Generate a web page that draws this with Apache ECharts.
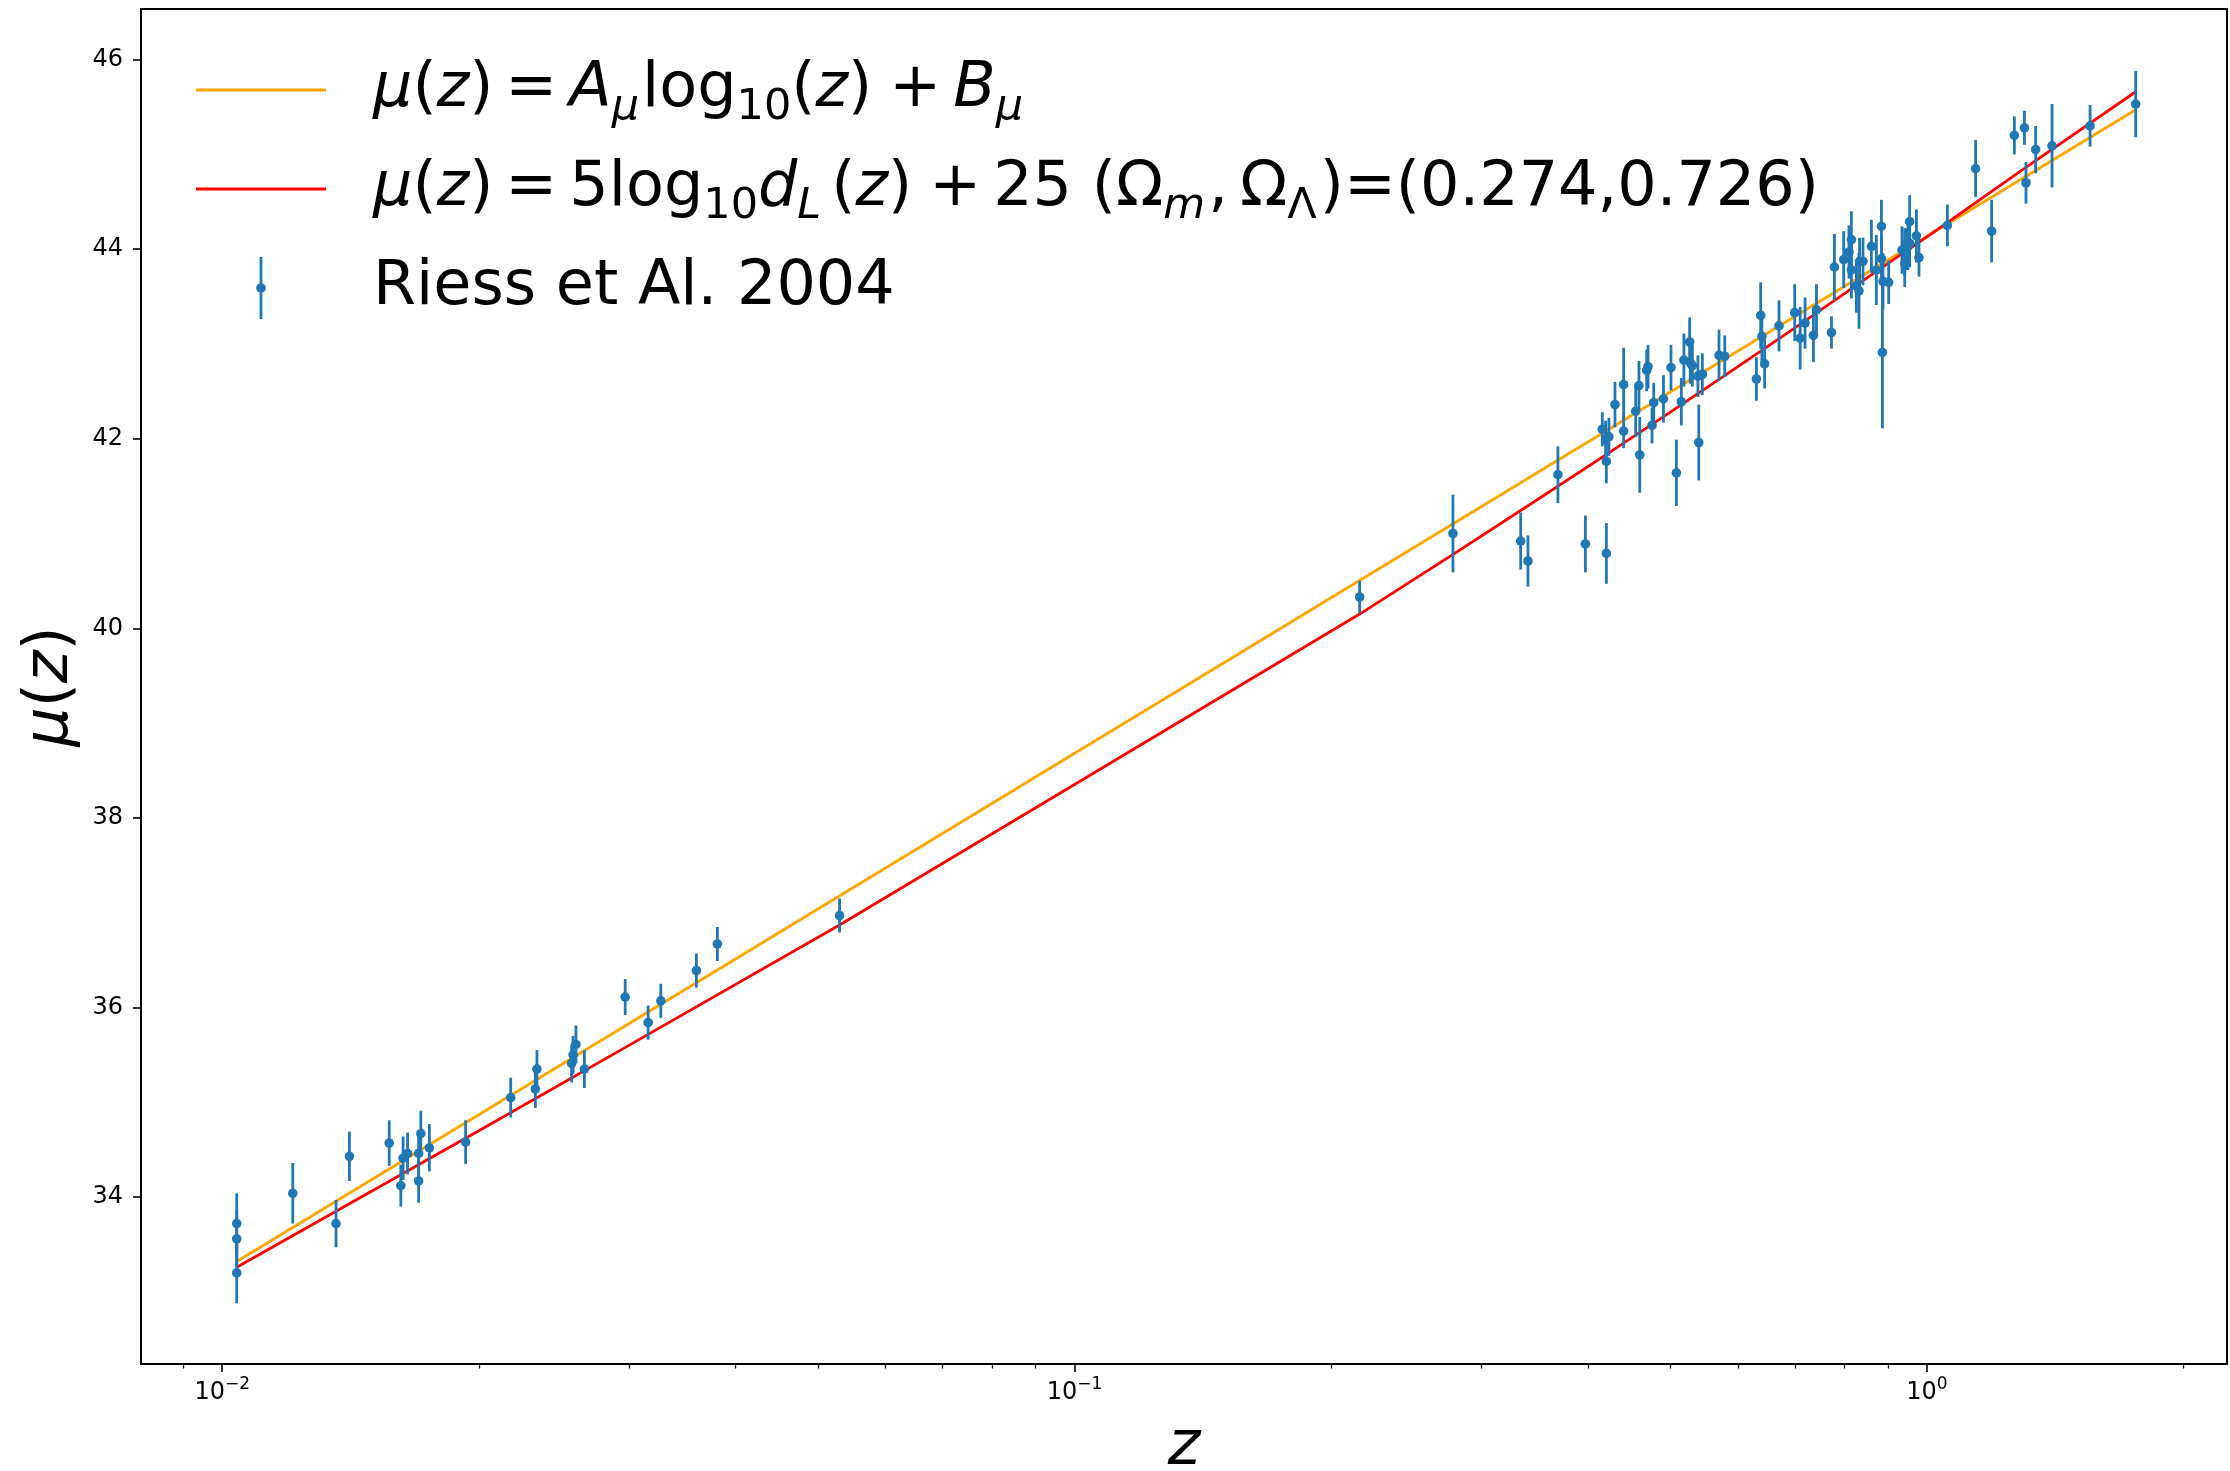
<!DOCTYPE html>
<html>
<head>
<meta charset="utf-8">
<script src="https://cdn.jsdelivr.net/npm/echarts@6/dist/echarts.min.js"></script>
<style>
html,body{margin:0;padding:0;background:#ffffff;}
#chart{width:2230px;height:1471px;}
</style>
</head>
<body>
<div id="chart"></div>
<script>
// ---- data ----
// Riess et al. 2004 supernovae: redshift, distance modulus, 1-sigma error
const snZ = [
  0.0104, 0.0104, 0.0104, 0.0121, 0.0136, 0.0141, 0.0157, 0.0162, 0.0163, 0.0165,
  0.0170, 0.0170, 0.0171, 0.0175, 0.0193, 0.0218, 0.0233, 0.0234, 0.0257, 0.0258,
  0.0260, 0.0266, 0.0297, 0.0316, 0.0327, 0.0360, 0.0381, 0.0530,
  0.2160, 0.2779, 0.3337, 0.3403, 0.3690, 0.3974, 0.4206, 0.4206, 0.4603, 0.5082,
  0.4160, 0.4198, 0.4235, 0.4305, 0.4407, 0.4407, 0.4553, 0.4593, 0.4707, 0.4690,
  0.4780, 0.4758, 0.4907, 0.5008, 0.5150, 0.5186, 0.5267, 0.5276, 0.5306, 0.5399,
  0.5386, 0.5451, 0.5702, 0.5791, 0.6308, 0.6381, 0.6402, 0.6450, 0.6705, 0.6996,
  0.7100, 0.7194, 0.7358, 0.7419, 0.7726,
  0.7788, 0.7986, 0.8100, 0.8153, 0.8153, 0.8264, 0.8322, 0.8335, 0.8413, 0.8606,
  0.8722, 0.8842, 0.8842, 0.8866, 0.8880, 0.9018, 0.9348, 0.9417, 0.9460, 0.9500,
  0.9543, 0.9543, 0.9719, 0.9786, 0.9417, 1.0566,
  1.1404, 1.1909, 1.2663, 1.3012, 1.3066, 1.3413, 1.4019, 1.5536, 1.7575
];
const snMu = [
  33.72, 33.56, 33.20, 34.04, 33.72, 34.43, 34.57, 34.12, 34.41, 34.46,
  34.46, 34.17, 34.67, 34.52, 34.58, 35.05, 35.14, 35.35, 35.41, 35.50,
  35.61, 35.35, 36.11, 35.84, 36.07, 36.39, 36.67, 36.97,
  40.33, 41.00, 40.92, 40.71, 41.62, 40.89, 40.79, 41.76, 41.83, 41.64,
  42.10, 41.99, 42.02, 42.36, 42.57, 42.08, 42.29, 42.56, 42.76, 42.72,
  42.38, 42.14, 42.42, 42.75, 42.39, 42.83, 43.02, 42.80, 42.77, 41.96,
  42.66, 42.68, 42.88, 42.87, 42.63, 43.30, 43.08, 42.79, 43.19, 43.33,
  43.06, 43.22, 43.09, 43.36, 43.12,
  43.81, 43.89, 43.97, 44.10, 43.78, 43.61, 43.56, 43.87, 43.87, 44.03,
  43.78, 44.24, 43.90, 42.91, 43.66, 43.65, 43.99, 43.97, 44.00, 44.03,
  44.29, 44.06, 44.14, 43.91, 43.85, 44.25,
  44.85, 44.19, 45.20, 45.28, 44.70, 45.05, 45.09, 45.30, 45.53
];
const snErr = [
  0.32, 0.30, 0.32, 0.32, 0.25, 0.26, 0.24, 0.22, 0.23, 0.22,
  0.23, 0.23, 0.24, 0.25, 0.23, 0.21, 0.20, 0.20, 0.20, 0.20,
  0.20, 0.20, 0.19, 0.18, 0.18, 0.18, 0.18, 0.18,
  0.17, 0.41, 0.30, 0.27, 0.30, 0.30, 0.32, 0.23, 0.40, 0.35,
  0.18, 0.20, 0.20, 0.24, 0.39, 0.18, 0.27, 0.26, 0.23, 0.22,
  0.21, 0.19, 0.25, 0.24, 0.25, 0.28, 0.26, 0.22, 0.22, 0.40,
  0.22, 0.22, 0.27, 0.22, 0.23, 0.35, 0.27, 0.26, 0.27, 0.30,
  0.33, 0.27, 0.28, 0.27, 0.17,
  0.35, 0.30, 0.28, 0.30, 0.30, 0.28, 0.40, 0.25, 0.25, 0.28,
  0.37, 0.28, 0.25, 0.80, 0.30, 0.23, 0.25, 0.25, 0.22, 0.25,
  0.28, 0.25, 0.28, 0.20, 0.25, 0.22,
  0.30, 0.33, 0.20, 0.18, 0.22, 0.25, 0.44, 0.22, 0.35
];
// fitted straight line mu = A log10(z) + B (orange)
const fitZ  = [0.0104, 1.7575];
const fitMu = [33.32, 45.47];
// LambdaCDM curve (red)
const lcdmZ  = [0.0104, 0.0200, 0.0300, 0.0530, 0.2160, 0.2780, 0.3400, 0.4200, 0.5000,
                0.6000, 0.7000, 0.8000, 0.9000, 1.0000, 1.3000, 1.7575];
const lcdmMu = [33.26, 34.70, 35.60, 36.87, 40.15, 40.78, 41.29, 41.83, 42.28,
                42.76, 43.17, 43.53, 43.85, 44.13, 44.85, 45.66];
// ticks
const xMajorTicks = [0.01, 0.1, 1];
const xMinorTicks = [0.009, 0.02, 0.03, 0.04, 0.05, 0.06, 0.07, 0.08, 0.09,
                     0.2, 0.3, 0.4, 0.5, 0.6, 0.7, 0.8, 0.9, 2];
const yTicks = [34, 36, 38, 40, 42, 44, 46];
const seriesNames = ['fit', 'lcdm', 'Riess et Al. 2004'];

// ---- chart ----
const FONT = 'DejaVu Sans';
const X_MIN = 0.00803, X_MAX = 2.249;
const Y_MIN = 32.239, Y_MAX = 46.533;
const BLUE = '#1f77b4', ORANGE = '#FFA500', RED = '#FF0000';

const legendText = {
  'fit': '{sp| }{i|μ}{n|(}{i|z}{n|)}{w12| }{n|=}{w12| }{i|A}{s|μ}{w3| }{n|log}{s0|10}{n|(}{i|z}{n|)}{w17| }{n|+}{w12| }{i|B}{s|μ}',
  'lcdm': '{sp| }{i|μ}{n|(}{i|z}{n|)}{w12| }{n|=}{w12| }{n|5log}{s0|10}{i|d}{s|L}{w10| }{n|(}{i|z}{n|)}{w17| }{n|+}{w12| }{n|25 (Ω}{s|m}{w3| }{n|,}{w12| }{n|Ω}{s0|Λ}{w3| }{n|)=(0.274,0.726)}',
  'Riess et Al. 2004': '{sp| }{n|Riess et Al. 2004}'
};

const chart = echarts.init(document.getElementById('chart'), null, {renderer: 'canvas'});

const option = {
  backgroundColor: '#ffffff',
  animation: false,
  grid: {
    left: 141, right: 3, top: 9, bottom: 107,
    show: true, borderColor: '#000000', borderWidth: 2,
    backgroundColor: 'transparent',
    containLabel: false, outerBoundsMode: 'none'
  },
  legend: {
    show: true,
    orient: 'vertical',
    left: 196, top: 54,
    padding: 0,
    itemGap: 24,
    itemWidth: 130, itemHeight: 62,
    selectedMode: false,
    symbolKeepAspect: true,
    itemStyle: {borderWidth: 0},
    data: [
      {name: seriesNames[0], icon: 'path://M0,-1.4L130,-1.4L130,1.4L0,1.4Z', itemStyle: {color: ORANGE}},
      {name: seriesNames[1], icon: 'path://M0,-1.4L130,-1.4L130,1.4L0,1.4Z', itemStyle: {color: RED}},
      {name: seriesNames[2], icon: 'path://M-1.4,-31L1.4,-31L1.4,31L-1.4,31Z M-4.8,0A4.8,4.8 0 1 1 4.8,0A4.8,4.8 0 1 1 -4.8,0Z', itemStyle: {color: BLUE}}
    ],
    formatter: function (name) { return legendText[name]; },
    textStyle: {
      fontFamily: FONT, fontSize: 62, color: '#000', lineHeight: 72,
      rich: {
        n:  {fontFamily: FONT, fontSize: 62, color: '#000', lineHeight: 72},
        i:  {fontFamily: FONT, fontSize: 62, color: '#000', lineHeight: 72, fontStyle: 'italic'},
        s:  {fontFamily: FONT, fontSize: 43, color: '#000', lineHeight: 37, height: 37, fontStyle: 'italic', verticalAlign: 'bottom'},
        s0: {fontFamily: FONT, fontSize: 43, color: '#000', lineHeight: 37, height: 37, verticalAlign: 'bottom'},
        sp: {fontFamily: FONT, fontSize: 62, width: 42, lineHeight: 72},
        w3:  {fontFamily: FONT, fontSize: 62, width: 3, lineHeight: 72},
        w10: {fontFamily: FONT, fontSize: 62, width: 10, lineHeight: 72},
        w12: {fontFamily: FONT, fontSize: 62, width: 12, lineHeight: 72},
        w17: {fontFamily: FONT, fontSize: 62, width: 17, lineHeight: 72}
      }
    }
  },
  xAxis: [
    {
      type: 'log', logBase: 10, gridIndex: 0, position: 'bottom',
      min: X_MIN, max: X_MAX,
      name: 'z', nameLocation: 'middle', nameGap: 53,
      nameTextStyle: {fontFamily: FONT, fontSize: 62, fontStyle: 'italic', color: '#000', lineHeight: 62},
      axisLine: {show: false},
      splitLine: {show: false},
      minorTick: {show: false},
      axisTick: {show: true, customValues: xMajorTicks, length: 8, inside: false,
                 lineStyle: {color: '#000', width: 1.6}},
      axisLabel: {
        show: true, customValues: xMajorTicks, margin: 15,
        formatter: function (v) {
          const p = Math.round(Math.log10(v));
          const s = p < 0 ? '\u2212' + (-p) : String(p);
          return '{b|10}{sup|' + s + '}';
        },
        rich: {
          b:   {fontFamily: FONT, fontSize: 24, color: '#000', lineHeight: 28},
          sup: {fontFamily: FONT, fontSize: 17, color: '#000', lineHeight: 11, height: 11, verticalAlign: 'top'}
        }
      }
    },
    {
      type: 'log', logBase: 10, gridIndex: 0, position: 'bottom',
      min: X_MIN, max: X_MAX,
      axisLine: {show: false},
      splitLine: {show: false},
      axisLabel: {show: false},
      axisTick: {show: true, customValues: xMinorTicks, length: 4.5, inside: false,
                 lineStyle: {color: '#000', width: 1.3}}
    }
  ],
  yAxis: {
    type: 'value', min: Y_MIN, max: Y_MAX,
    name: '{i|μ}{n|(}{i|z}{n|)}', nameLocation: 'middle', nameGap: 54, nameRotate: 90,
    nameTextStyle: {
      fontFamily: FONT, fontSize: 62, color: '#000', lineHeight: 62,
      rich: {
        n: {fontFamily: FONT, fontSize: 62, color: '#000', lineHeight: 62},
        i: {fontFamily: FONT, fontSize: 62, color: '#000', lineHeight: 62, fontStyle: 'italic'}
      }
    },
    axisLine: {show: false},
    splitLine: {show: false},
    axisTick: {show: true, customValues: yTicks, length: 8, inside: false,
               lineStyle: {color: '#000', width: 1.6}},
    axisLabel: {show: true, customValues: yTicks, margin: 18,
                fontFamily: FONT, fontSize: 24, color: '#000'}
  },
  series: [
    {
      name: seriesNames[0], type: 'line', xAxisIndex: 0, yAxisIndex: 0,
      data: fitZ.map((z, i) => [z, fitMu[i]]),
      symbol: 'none', showSymbol: false, silent: true, z: 2,
      lineStyle: {color: ORANGE, width: 2.8},
      itemStyle: {color: ORANGE}
    },
    {
      name: seriesNames[1], type: 'line', xAxisIndex: 0, yAxisIndex: 0,
      data: lcdmZ.map((z, i) => [z, lcdmMu[i]]),
      symbol: 'none', showSymbol: false, silent: true, z: 2,
      lineStyle: {color: RED, width: 2.8},
      itemStyle: {color: RED}
    },
    {
      name: seriesNames[2], type: 'custom', xAxisIndex: 0, yAxisIndex: 0,
      data: snZ.map((z, i) => [z, snMu[i], snErr[i]]),
      encode: {x: 0, y: 1},
      silent: true, z: 3,
      itemStyle: {color: BLUE},
      renderItem: function (params, api) {
        const zv = api.value(0), m = api.value(1), e = api.value(2);
        const p = api.coord([zv, m]);
        const hi = api.coord([zv, m + e]);
        const lo = api.coord([zv, m - e]);
        return {
          type: 'group',
          children: [
            {type: 'line', shape: {x1: p[0], y1: hi[1], x2: p[0], y2: lo[1]},
             style: {stroke: BLUE, lineWidth: 2.8}},
            {type: 'circle', shape: {cx: p[0], cy: p[1], r: 4.8},
             style: {fill: BLUE}}
          ]
        };
      }
    }
  ]
};
chart.setOption(option);
</script>
</body>
</html>
